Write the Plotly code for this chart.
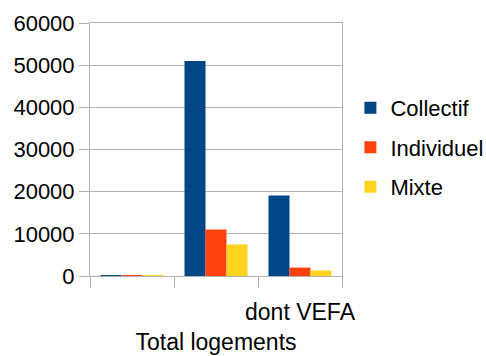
import plotly.graph_objects as go

# Housing counts by type
categories = ["Ensemble", "Total logements", "dont VEFA"]
tick_labels = ["", "<br>Total logements", "dont VEFA"]
collectif = [150, 51000, 19100]
individuel = [150, 11000, 2000]
mixte = [150, 7500, 1300]

series = [
    ("Collectif", collectif, "#004586"),
    ("Individuel", individuel, "#ff420e"),
    ("Mixte", mixte, "#ffd320"),
]

fig = go.Figure()
for name, vals, color in series:
    fig.add_trace(go.Bar(
        x=categories, y=vals, name=name, legendgroup=name,
        marker=dict(color=color, line=dict(width=0)),
    ))

grid = "#b3b3b3"
fig.update_layout(
    width=486, height=356,
    margin=dict(l=90, r=144, t=23, b=80),
    paper_bgcolor="white", plot_bgcolor="white",
    font=dict(family="Liberation Sans, Arial, sans-serif", size=21, color="#000000"),
    barmode="group", bargap=0.25, bargroupgap=0,
    showlegend=True,
    legend=dict(
        xref="container", yref="container",
        x=0.721, y=0.756, xanchor="left", yanchor="top",
        font=dict(size=22), tracegroupgap=8,
        bgcolor="rgba(0,0,0,0)",
    ),
)
fig.update_xaxes(
    type="category", tickmode="array", tickvals=categories, ticktext=tick_labels,
    tickangle=0, automargin=False, ticklabelstandoff=15,
    tickson="boundaries", ticks="outside", ticklen=11, tickcolor=grid, tickwidth=1,
    showline=True, linecolor=grid, linewidth=1, mirror=True,
    showgrid=False, tickfont=dict(size=23),
)
fig.update_yaxes(
    range=[0, 60000], dtick=10000, tickformat="d", automargin=False,
    ticks="outside", ticklen=10, tickcolor=grid, tickwidth=1,
    showline=True, linecolor=grid, linewidth=1, mirror=True,
    showgrid=True, gridcolor=grid, gridwidth=1, zeroline=False,
    tickfont=dict(size=22),
)

fig.write_html("out.html")
